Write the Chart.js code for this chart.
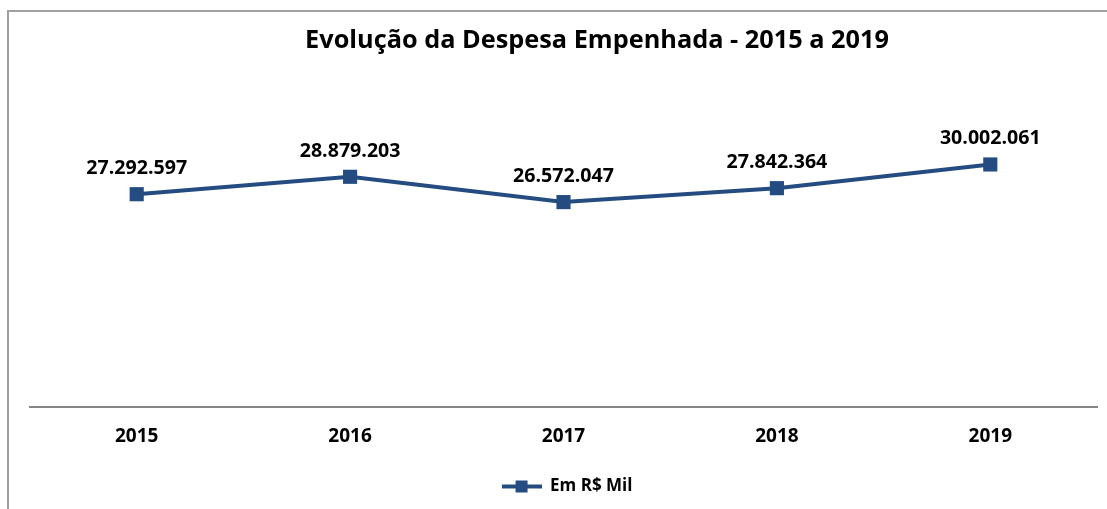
<!DOCTYPE html>
<html>
<head>
<meta charset="utf-8">
<script src="https://cdn.jsdelivr.net/npm/chart.js@4.4.1/dist/chart.umd.min.js"></script>
<style>
  html, body { margin: 0; padding: 0; background: #fff; overflow: hidden; }
  #moldura {
    position: absolute; left: 7px; top: 10px; width: 1120px; height: 520px;
    border: 2px solid #a0a0a0;
  }
  #wrap { position: absolute; left: 0; top: 0; width: 1107px; height: 509px; }
</style>
</head>
<body>
<div id="moldura"></div>
<div id="wrap"><canvas id="despesaChart" width="1107" height="509"></canvas></div>
<script>
// Dados do gráfico
const anos = ["2015", "2016", "2017", "2018", "2019"];
const despesaEmpenhada = [27292597, 28879203, 26572047, 27842364, 30002061];
const nomeSerie = "Em R$ Mil";
const tituloGrafico = "Evolução da Despesa Empenhada - 2015 a 2019";
// limites do eixo Y (eixo oculto)
const yMin = 7900000;
const yMax = 37700000;

const corLinha = "#244C80";
const fonte = "'Open Sans', sans-serif";

// formato 27.292.597
function formatar(v) {
    return String(v).replace(/\B(?=(\d{3})+(?!\d))/g, ".");
}

// ícone da legenda: linha com quadrado
const iconeLegenda = document.createElement("canvas");
iconeLegenda.width = 40;
iconeLegenda.height = 14;
(function () {
    const c = iconeLegenda.getContext("2d");
    c.fillStyle = corLinha;
    c.fillRect(0, 5, 40, 4);
    c.fillRect(14, 1, 12, 12);
})();

// título desenhado à mão (centro deslocado como no original)
const pluginTitulo = {
    id: "titulo",
    afterDraw(chart) {
        const c = chart.ctx;
        c.save();
        c.font = "bold 25.3px " + fonte;
        c.fillStyle = "#000";
        c.textAlign = "center";
        c.textBaseline = "alphabetic";
        c.fillText(tituloGrafico, 597, 48);
        c.restore();
    }
};

// rótulos de valores acima dos pontos
const pluginRotulos = {
    id: "rotulos",
    afterDatasetsDraw(chart) {
        const c = chart.ctx;
        const meta = chart.getDatasetMeta(0);
        c.save();
        c.font = "bold 19.6px " + fonte;
        c.fillStyle = "#000";
        c.textAlign = "center";
        c.textBaseline = "alphabetic";
        meta.data.forEach((pt, i) => {
            c.fillText(formatar(chart.data.datasets[0].data[i]), pt.x, pt.y - 20);
        });
        c.restore();
    }
};

let ctx = document.getElementById("despesaChart").getContext("2d");

let despesaChart = new Chart(ctx, {
    type: "line",
    data: {
        labels: anos,
        datasets: [{
            label: nomeSerie,
            data: despesaEmpenhada,
            borderColor: corLinha,
            backgroundColor: corLinha,
            borderWidth: 4,
            pointStyle: "rect",
            pointRadius: 10,
            pointHoverRadius: 10,
            pointBorderWidth: 0,
            tension: 0
        }]
    },
    options: {
        responsive: false,
        animation: false,
        layout: {
            padding: { top: 80, left: 30, right: 3, bottom: 4 }
        },
        plugins: {
            title: { display: false },
            tooltip: { enabled: false },
            legend: {
                display: true,
                position: "bottom",
                labels: {
                    usePointStyle: true,
                    pointStyle: iconeLegenda,
                    pointStyleWidth: 40,
                    padding: 10,
                    color: "#000",
                    font: { family: fonte, size: 17, weight: "bold" }
                }
            }
        },
        scales: {
            x: {
                offset: true,
                grid: { display: false, drawTicks: false },
                border: { display: true, color: "#868686", width: 2 },
                ticks: {
                    padding: 18,
                    color: "#000",
                    font: { family: fonte, size: 19, weight: "bold" }
                },
                afterFit(scale) { scale.height = 61; }
            },
            y: {
                display: false,
                min: yMin,
                max: yMax
            }
        }
    },
    plugins: [pluginTitulo, pluginRotulos]
});
</script>
</body>
</html>
